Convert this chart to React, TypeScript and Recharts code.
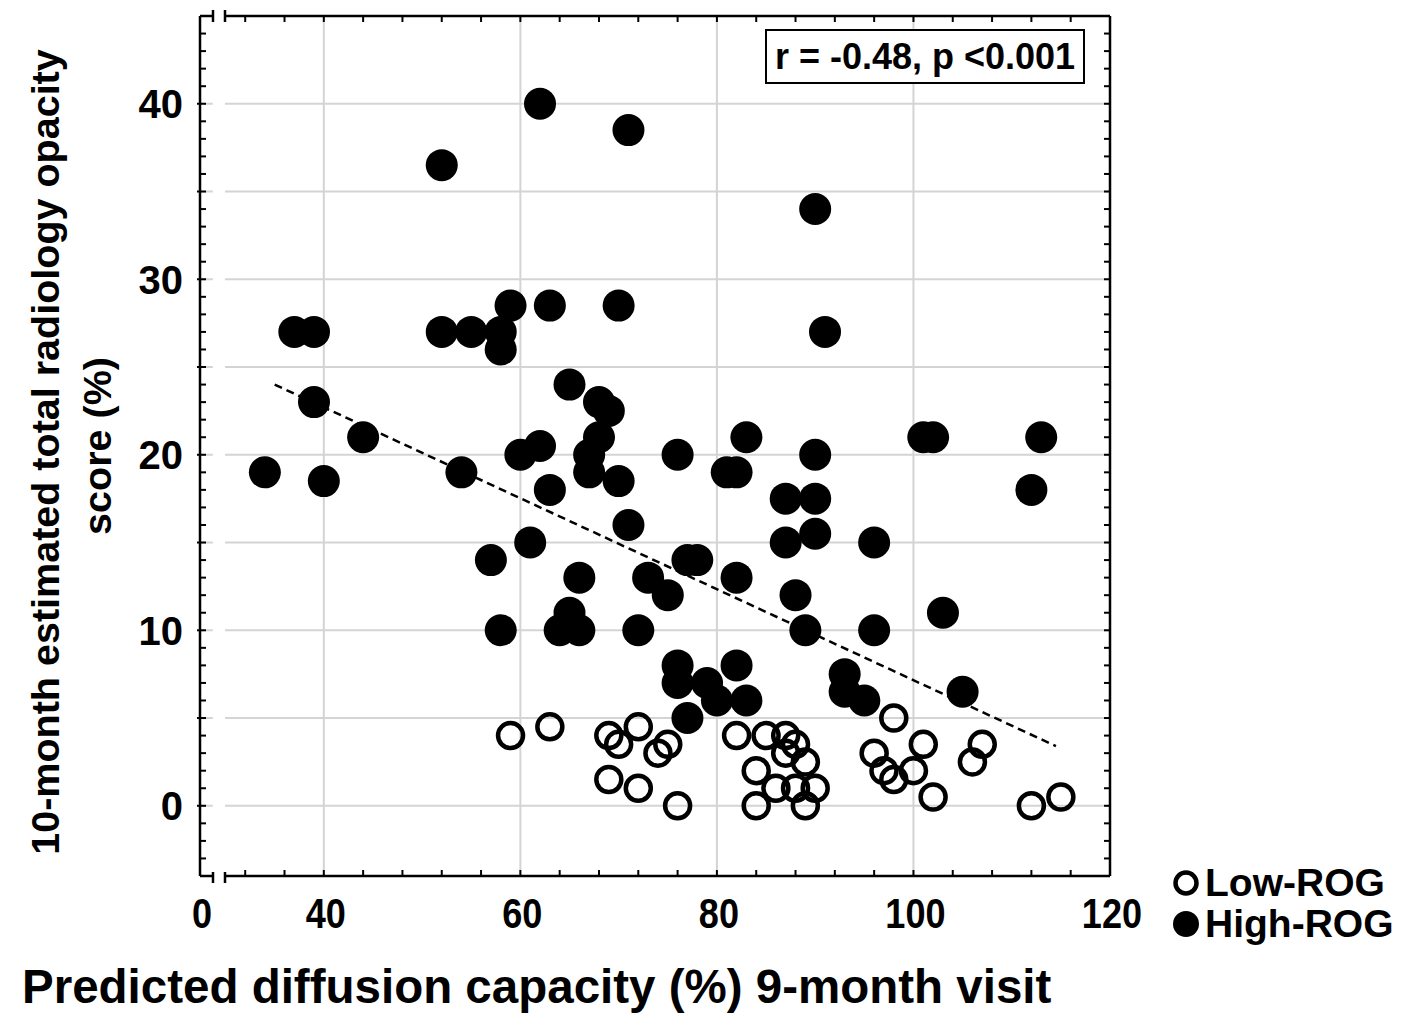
import React from 'react';
import {
  ScatterChart,
  Scatter,
  XAxis,
  YAxis,
  CartesianGrid,
  ReferenceLine,
  ReferenceArea,
  Legend,
} from 'recharts';

// axis ranges (x axis is broken: left edge is labelled 0)
const X_MIN = 27.4;
const X_MAX = 120;
const Y_MIN = -4;
const Y_MAX = 45;
const BREAK_FROM = 28.7;
const BREAK_TO = 29.95;

const xLabelTicks = [X_MIN, 40, 60, 80, 100, 120];
const xTickLabels = ['0', '40', '60', '80', '100', '120'];
const xMinorTicks = [32, 36, 44, 48, 52, 56, 64, 68, 72, 76, 84, 88, 92, 96, 104, 108, 112, 116];
const xGridTicks = [40, 60, 80, 100];
const yLabelTicks = [0, 10, 20, 30, 40];
const yTickLabels = ['0', '10', '20', '30', '40'];
const yGridTicks = [0, 5, 10, 15, 20, 25, 30, 35, 40];
const yMinorTicks = Array.from({ length: Y_MAX - Y_MIN + 1 }, (_, i) => Y_MIN + i);
const xAllTicks = [...xLabelTicks, ...xMinorTicks].sort((a, b) => a - b);

// Low-ROG (open circles)
const lowRogDlco = [59, 63, 69, 70, 72, 69, 72, 74, 75, 76, 82, 85, 87, 88, 87, 89, 84, 86, 88, 90, 84, 89, 98, 96, 101, 97, 98, 100, 102, 107, 106, 112, 115];
const lowRogScore = [4, 4.5, 4, 3.5, 4.5, 1.5, 1, 3, 3.5, 0, 4, 4, 4, 3.5, 3, 2.5, 2, 1, 1, 1, 0, 0, 5, 3, 3.5, 2, 1.5, 2, 0.5, 3.5, 2.5, 0, 0.5];

// High-ROG (filled circles)
const highRogDlco = [
  62, 71, 52, 90,
  59, 63, 70,
  37, 39, 52, 55, 58, 91,
  58, 65, 39, 68, 69,
  44, 68, 83, 101, 102, 113,
  62, 60, 67, 76, 90,
  34, 54, 67, 81, 82,
  40, 70, 63, 112,
  87, 90, 71, 90,
  61, 87, 96,
  57, 77, 78,
  66, 73, 82,
  75, 88, 65, 103,
  58, 64, 66, 72, 89, 96,
  76, 82, 93, 76, 79, 93, 105,
  80, 83, 95, 77,
];
const highRogScore = [
  40, 38.5, 36.5, 34,
  28.5, 28.5, 28.5,
  27, 27, 27, 27, 27, 27,
  26, 24, 23, 23, 22.5,
  21, 21, 21, 21, 21, 21,
  20.5, 20, 20, 20, 20,
  19, 19, 19, 19, 19,
  18.5, 18.5, 18, 18,
  17.5, 17.5, 16, 15.5,
  15, 15, 15,
  14, 14, 14,
  13, 13, 13,
  12, 12, 11, 11,
  10, 10, 10, 10, 10, 10,
  8, 8, 7.5, 7, 7, 6.5, 6.5,
  6, 6, 6, 5,
];

// dashed regression line end points
const trendDlco = [35, 114.5];
const trendScore = [24, 3.4];

const seriesNames = ['Low-ROG', 'High-ROG'];

const lowRog = lowRogDlco.map((x, i) => ({ x, y: lowRogScore[i] }));
const highRog = highRogDlco.map((x, i) => ({ x, y: highRogScore[i] }));

const FONT = "'Liberation Sans', Arial, Helvetica, sans-serif";

const BreakMark = ({ x, y, up, down }: any) => (
  <g>
    <rect x={x + 13} y={y - 3} width={12} height={6} fill="#fff" />
    <line x1={x + 13} x2={x + 13} y1={y - up} y2={y + down} stroke="#000" strokeWidth={2.5} />
    <line x1={x + 25} x2={x + 25} y1={y - up} y2={y + down} stroke="#000" strokeWidth={2.5} />
  </g>
);

const BottomTick = (props: any) => {
  const { x, y, payload } = props;
  const v = payload.value;
  const li = xLabelTicks.indexOf(v);
  const lx = x + 2;
  return (
    <g>
      {v === X_MIN ? (
        <BreakMark x={x} y={y} up={4} down={7} />
      ) : (
        <line x1={x} x2={x} y1={y} y2={y - 6} stroke="#000" strokeWidth={2} />
      )}
      {li >= 0 && (
        <text
          x={lx}
          y={y + 52}
          transform={`matrix(0.84 0 0 1 ${lx * 0.16} 0)`}
          textAnchor="middle"
          fontFamily={FONT}
          fontWeight="bold"
          fontSize={43}
          fill="#000"
        >
          {xTickLabels[li]}
        </text>
      )}
    </g>
  );
};

const TopTick = (props: any) => {
  const { x, y, payload } = props;
  const v = payload.value;
  if (v === X_MIN) return <BreakMark x={x} y={y} up={6} down={6} />;
  return <line x1={x} x2={x} y1={y} y2={y + 6} stroke="#000" strokeWidth={2} />;
};

const LeftTick = (props: any) => {
  const { x, y, payload } = props;
  const v = payload.value;
  const li = yLabelTicks.indexOf(v);
  const major = v % 5 === 0;
  return (
    <g>
      {v !== Y_MIN && v !== Y_MAX && (
        <line x1={x - (major ? 3 : 0)} x2={x + 6} y1={y} y2={y} stroke="#000" strokeWidth={2} />
      )}
      {li >= 0 && (
        <text x={x - 17} y={y} dy="0.36em" textAnchor="end" fontFamily={FONT} fontWeight="bold" fontSize={40} fill="#000">
          {yTickLabels[li]}
        </text>
      )}
    </g>
  );
};

const RightTick = (props: any) => {
  const { x, y, payload } = props;
  const v = payload.value;
  if (v === Y_MIN || v === Y_MAX) return <g />;
  return <line x1={x} x2={x - 6} y1={y} y2={y} stroke="#000" strokeWidth={2} />;
};

const YTitle = () => (
  <g fontFamily={FONT} fontWeight="bold" fontSize={39.5} fill="#000">
    <text x={45} y={452} transform="rotate(-90 45 452)" textAnchor="middle" dominantBaseline="central">
      10-month estimated total radiology opacity
    </text>
    <text x={97} y={446} transform="rotate(-90 97 446)" textAnchor="middle" dominantBaseline="central">
      score (%)
    </text>
  </g>
);

const XTitle = () => (
  <text x={22} y={1003} fontFamily={FONT} fontWeight="bold" fontSize={47.5} fill="#000">
    Predicted diffusion capacity (%) 9-month visit
  </text>
);

const LegendBox = () => (
  <div style={{ fontFamily: FONT, fontWeight: 'bold', fontSize: 39, color: '#000', lineHeight: '41px' }}>
    {seriesNames.map((name, i) => (
      <div key={name} style={{ display: 'flex', alignItems: 'center' }}>
        <svg width={30} height={30} style={{ marginRight: 4 }}>
          {i === 0 ? (
            <circle cx={15} cy={15} r={10.5} fill="none" stroke="#000" strokeWidth={4.5} />
          ) : (
            <circle cx={15} cy={15} r={13} fill="#000" />
          )}
        </svg>
        <span>{name}</span>
      </div>
    ))}
  </div>
);

const OpenDot = (p: any) => <circle cx={p.cx} cy={p.cy} r={12.5} fill="none" stroke="#000" strokeWidth={4.5} />;
const FilledDot = (p: any) => <circle cx={p.cx} cy={p.cy} r={16} fill="#000" />;

const axisLine = { stroke: '#000', strokeWidth: 2.5 };

export default function App() {
  return (
    <div style={{ position: 'relative', width: 1414, height: 1024, margin: -8, background: '#fff' }}>
      <ScatterChart width={1414} height={1024} margin={{ top: 15, right: 303, bottom: 147, left: 199 }}>
        <XAxis
          xAxisId="x"
          type="number"
          dataKey="x"
          domain={[X_MIN, X_MAX]}
          ticks={xAllTicks}
          interval={0}
          height={1}
          tickSize={0}
          tickMargin={0}
          tickLine={false}
          axisLine={axisLine}
          tick={(p: any) => <BottomTick {...p} />}
          allowDataOverflow
          label={{ content: () => <XTitle /> }}
        />
        <XAxis
          xAxisId="top"
          orientation="top"
          type="number"
          dataKey="x"
          domain={[X_MIN, X_MAX]}
          ticks={xAllTicks}
          interval={0}
          height={1}
          tickSize={0}
          tickMargin={0}
          tickLine={false}
          axisLine={axisLine}
          tick={(p: any) => <TopTick {...p} />}
          allowDataOverflow
        />
        <YAxis
          yAxisId="y"
          type="number"
          dataKey="y"
          domain={[Y_MIN, Y_MAX]}
          ticks={yMinorTicks}
          interval={0}
          width={1}
          tickSize={0}
          tickMargin={0}
          tickLine={false}
          axisLine={axisLine}
          tick={(p: any) => <LeftTick {...p} />}
          allowDataOverflow
          label={{ content: () => <YTitle /> }}
        />
        <YAxis
          yAxisId="right"
          orientation="right"
          type="number"
          dataKey="y"
          domain={[Y_MIN, Y_MAX]}
          ticks={yMinorTicks}
          interval={0}
          width={1}
          tickSize={0}
          tickMargin={0}
          tickLine={false}
          axisLine={axisLine}
          tick={(p: any) => <RightTick {...p} />}
          allowDataOverflow
        />
        <XAxis
          xAxisId="grid"
          type="number"
          dataKey="x"
          domain={[X_MIN, X_MAX]}
          ticks={xGridTicks}
          height={0}
          hide
          allowDataOverflow
        />
        <YAxis
          yAxisId="ygrid"
          type="number"
          dataKey="y"
          domain={[Y_MIN, Y_MAX]}
          ticks={yGridTicks}
          width={0}
          hide
          allowDataOverflow
        />
        <CartesianGrid xAxisId="grid" yAxisId="ygrid" stroke="#d4d4d4" strokeWidth={2} />
        <ReferenceArea
          xAxisId="x"
          yAxisId="y"
          x1={BREAK_FROM}
          x2={BREAK_TO}
          y1={Y_MIN}
          y2={Y_MAX}
          fill="#fff"
          fillOpacity={1}
          stroke="none"
          ifOverflow="visible"
        />
        <ReferenceLine
          xAxisId="x"
          yAxisId="y"
          segment={[
            { x: trendDlco[0], y: trendScore[0] },
            { x: trendDlco[1], y: trendScore[1] },
          ]}
          stroke="#000"
          strokeWidth={2.5}
          strokeDasharray="8 5"
        />
        <Scatter
          name={seriesNames[1]}
          xAxisId="x"
          yAxisId="y"
          data={highRog}
          shape={FilledDot}
          isAnimationActive={false}
        />
        <Scatter
          name={seriesNames[0]}
          xAxisId="x"
          yAxisId="y"
          data={lowRog}
          shape={OpenDot}
          isAnimationActive={false}
        />
        <Legend
          layout="vertical"
          align="center"
          verticalAlign="middle"
          wrapperStyle={{ left: 1171, top: 862, width: 243 }}
          content={() => <LegendBox />}
        />
      </ScatterChart>
      <div
        style={{
          position: 'absolute',
          left: 765,
          top: 29,
          width: 320,
          height: 55,
          boxSizing: 'border-box',
          border: '2.5px solid #000',
          background: '#fff',
          display: 'flex',
          alignItems: 'center',
          justifyContent: 'center',
          fontFamily: FONT,
          fontWeight: 'bold',
          fontSize: 36,
          color: '#000',
        }}
      >
        r = -0.48, p &lt;0.001
      </div>
    </div>
  );
}
